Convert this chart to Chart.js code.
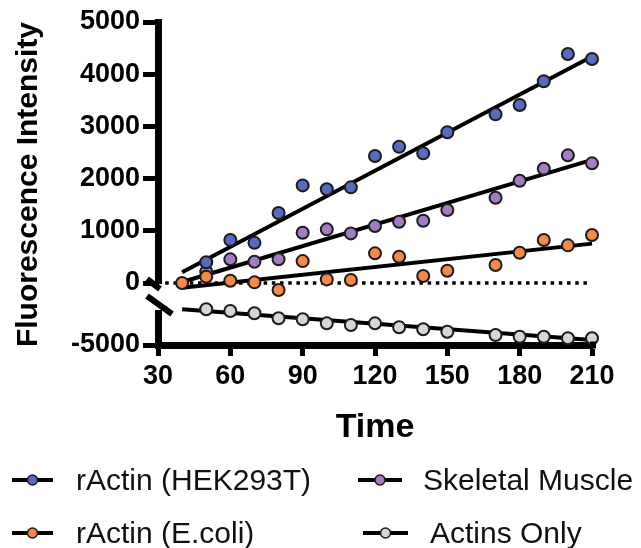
<!DOCTYPE html>
<html><head><meta charset="utf-8">
<script src="https://cdn.jsdelivr.net/npm/chart.js@4.4.1/dist/chart.umd.min.js"></script>
<style>
html,body{margin:0;padding:0;background:#fff;}
#wrap{position:relative;width:641px;height:548px;overflow:hidden;}
#c{position:absolute;left:0;top:0;}
.leg{position:absolute;font-family:"Liberation Sans",Arial,sans-serif;font-size:30px;line-height:30px;color:#111;white-space:nowrap;}
.sym{position:absolute;}
</style></head><body>
<div id="wrap"><canvas id="c" width="641" height="548"></canvas><div id="legend"></div></div>
<script>
// ---- data ----
const seriesNames = ['rActin (HEK293T)', 'Skeletal Muscle', 'rActin (E.coli)', 'Actins Only'];
const seriesColors = ['#5A6BBF', '#A37CC4', '#F5884C', '#D6D6D6'];
const timesA = [50, 60, 70, 80, 90, 100, 110, 120, 130, 140, 150, 170, 180, 190, 200, 210];
const timesB = [40, 50, 60, 70, 80, 90, 100, 110, 120, 130, 140, 150, 170, 180, 190, 200, 210];
const hek = [397, 824, 770, 1341, 1870, 1795, 1833, 2433, 2611, 2484, 2887, 3231, 3410, 3864, 4387, 4291];
const skeletal = [217, 454, 409, 454, 964, 1028, 951, 1092, 1175, 1194, 1398, 1635, 1960, 2190, 2446, 2293];
const ecoli = [0, 121, 45, 13, -134, 420, 70, 57, 569, 504, 134, 236, 345, 581, 824, 722, 920];
const actinsOnly = [-4300, -4333, -4378, -4476, -4496, -4575, -4608, -4575, -4653, -4692, -4739, -4804, -4837, -4837, -4869, -4869];
const fitX = [40, 210];
const fitHek = [207, 4340];
const fitSkeletal = [20, 2360];
const fitEcoli = [-90, 755];
const fitActins = [-4300, -4900];
const zeroX = [33, 208];
const zeroY = [0, 0];
const xTicks = [30, 60, 90, 120, 150, 180, 210];
const yTopTicks = [0, 1000, 2000, 3000, 4000, 5000];
const yLowTicks = [-5000];

const FONT = '"Liberation Sans", Arial, sans-serif';
const pts = (xs, ys) => xs.map((x, i) => ({x: x, y: ys[i]}));

function scatterDs(idx, xs, ys, axis) {
  return {
    type: 'scatter', label: seriesNames[idx], data: pts(xs, ys), yAxisID: axis,
    backgroundColor: seriesColors[idx], borderColor: '#1b1b1b', borderWidth: 2,
    pointRadius: 6, pointHoverRadius: 6, showLine: false, clip: false, order: 0
  };
}
function lineDs(xs, ys, axis, extra) {
  return Object.assign({
    type: 'line', label: '_fit', data: pts(xs, ys), yAxisID: axis,
    borderColor: '#000', borderWidth: 4, pointRadius: 0, fill: false, clip: false, order: 1
  }, extra || {});
}

const datasets = [
  scatterDs(0, timesA, hek, 'yTop'),
  scatterDs(2, timesB, ecoli, 'yTop'),
  scatterDs(1, timesA, skeletal, 'yTop'),
  scatterDs(3, timesA, actinsOnly, 'yLow'),
  lineDs(fitX, fitHek, 'yTop'),
  lineDs(fitX, fitSkeletal, 'yTop'),
  lineDs(fitX, fitEcoli, 'yTop'),
  lineDs(fitX, fitActins, 'yLow'),
  lineDs(zeroX, zeroY, 'yTop', {borderWidth: 3.5, borderDash: [3.5, 4.7], borderCapStyle: 'butt'})
];

const tickFont = {family: FONT, size: 27, weight: 'bold'};
const gridOpts = (len) => ({drawOnChartArea: false, drawTicks: true, tickLength: len, tickWidth: 5, tickColor: '#000'});

const extras = {
  id: 'extras',
  afterDraw(chart) {
    const ctx = chart.ctx;
    const top = chart.scales.yTop;
    const L = chart.chartArea.left;
    const b = top.bottom;
    ctx.save();
    // axis break
    ctx.fillStyle = '#fff';
    ctx.fillRect(L - 5, b - 10, 11, 26);
    ctx.strokeStyle = '#000';
    ctx.lineWidth = 6;
    ctx.lineCap = 'butt';
    ctx.beginPath(); ctx.moveTo(L - 11, b - 15); ctx.lineTo(L + 2, b - 5); ctx.stroke();
    ctx.beginPath(); ctx.moveTo(L - 11, b + 2); ctx.lineTo(L + 14, b + 20); ctx.stroke();
    // extend x axis line a little to the right
    ctx.lineWidth = 7;
    ctx.beginPath(); ctx.moveTo(chart.chartArea.right - 2, chart.chartArea.bottom); ctx.lineTo(chart.chartArea.right + 4, chart.chartArea.bottom); ctx.stroke();
    // y axis title, centred on the full broken axis
    ctx.fillStyle = '#000';
    ctx.font = 'bold 30px ' + FONT;
    ctx.textAlign = 'center';
    ctx.textBaseline = 'middle';
    ctx.translate(29, (chart.chartArea.top + chart.chartArea.bottom) / 2 + 1);
    ctx.rotate(-Math.PI / 2);
    ctx.fillText('Fluorescence Intensity', 0, 0);
    ctx.restore();
  }
};

const chart = new Chart(document.getElementById('c'), {
  data: {datasets: datasets},
  options: {
    responsive: false, animation: false, events: [],
    layout: {padding: {left: 0, right: 49, top: 22, bottom: 100}},
    plugins: {legend: {display: false}, tooltip: {enabled: false}},
    scales: {
      x: {
        type: 'linear', position: 'bottom', min: 30, max: 210,
        afterBuildTicks: s => { s.ticks = xTicks.map(v => ({value: v})); },
        ticks: {font: tickFont, color: '#000', padding: 4, maxRotation: 0, callback: v => String(v)},
        grid: gridOpts(11),
        border: {display: true, width: 7, color: '#000'},
        title: {display: true, text: 'Time', color: '#000', font: {family: FONT, size: 34, weight: 'bold'}, padding: {top: 0, bottom: 0}},
        afterFit: s => { s.height = 103; }
      },
      yLow: {
        type: 'linear', position: 'left', stack: 'ybrk', stackWeight: 51, offset: false,
        min: -5000, max: -4000,
        afterBuildTicks: s => { s.ticks = yLowTicks.map(v => ({value: v})); },
        ticks: {font: tickFont, color: '#000', padding: 3, callback: v => String(v)},
        grid: gridOpts(15),
        border: {display: true, width: 7, color: '#000'},
        afterFit: s => { s.width = 158; }
      },
      yTop: {
        type: 'linear', position: 'left', stack: 'ybrk', stackWeight: 272, offset: false,
        min: -210, max: 5000,
        afterBuildTicks: s => { s.ticks = yTopTicks.map(v => ({value: v})); },
        ticks: {font: tickFont, color: '#000', padding: 3, callback: v => String(v)},
        grid: gridOpts(15),
        border: {display: true, width: 7, color: '#000'},
        afterFit: s => { s.width = 158; }
      }
    }
  },
  plugins: [extras]
});

// ---- HTML legend built from the series arrays ----
const legendPos = [
  {lx: 12, lw: 41, cy: 480, tx: 76},
  {lx: 358, lw: 44, cy: 480, tx: 423},
  {lx: 12, lw: 41, cy: 533, tx: 76},
  {lx: 363, lw: 45, cy: 533, tx: 430}
];
const legendOrder = [0, 1, 2, 3];
const legEl = document.getElementById('legend');
legendOrder.forEach((si, k) => {
  const p = legendPos[k];
  const svgNS = 'http://www.w3.org/2000/svg';
  const svg = document.createElementNS(svgNS, 'svg');
  svg.setAttribute('width', p.lw + 4); svg.setAttribute('height', 16);
  svg.setAttribute('class', 'sym');
  svg.style.left = (p.lx - 2) + 'px'; svg.style.top = (p.cy - 8) + 'px';
  const ln = document.createElementNS(svgNS, 'line');
  ln.setAttribute('x1', 2); ln.setAttribute('x2', p.lw + 2); ln.setAttribute('y1', 8); ln.setAttribute('y2', 8);
  ln.setAttribute('stroke', '#000'); ln.setAttribute('stroke-width', 4);
  const c = document.createElementNS(svgNS, 'circle');
  c.setAttribute('cx', p.lw / 2 + 2); c.setAttribute('cy', 8); c.setAttribute('r', 5);
  c.setAttribute('fill', seriesColors[si]); c.setAttribute('stroke', '#1b1b1b'); c.setAttribute('stroke-width', 1.5);
  svg.appendChild(ln); svg.appendChild(c);
  legEl.appendChild(svg);
  const t = document.createElement('div');
  t.className = 'leg';
  t.textContent = seriesNames[si];
  t.style.left = p.tx + 'px'; t.style.top = (p.cy - 15) + 'px';
  legEl.appendChild(t);
});
</script>
</body></html>
